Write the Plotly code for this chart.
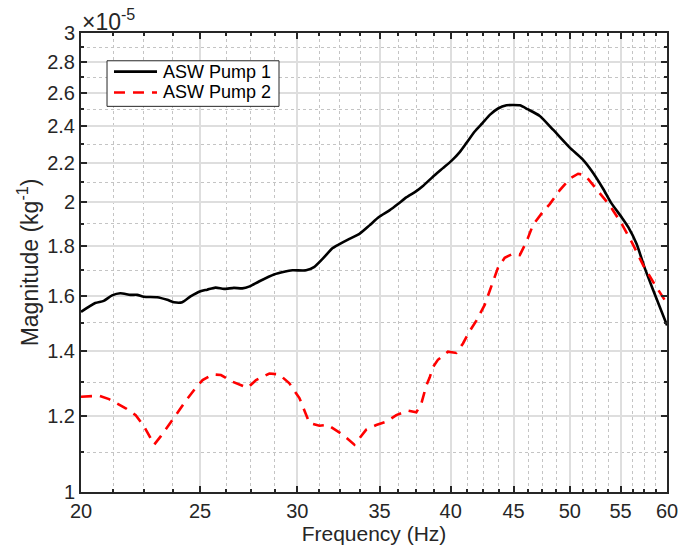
import plotly.graph_objects as go

# ASW Pump 1 (black), magnitude in units of 1e-5 kg^-1
f1 = [20.0, 20.54, 20.87, 21.2, 21.53, 21.94, 22.22, 22.5, 23.07, 23.51, 23.8, 24.18,
      24.56, 25.02, 25.34, 25.74, 26.15, 26.64, 27.06, 27.44, 27.92, 28.72, 29.27, 29.73,
      30.5, 30.98, 31.47, 32.06, 32.47, 33.08, 33.71, 34.35, 34.96, 35.66, 36.23, 36.8,
      37.45, 37.97, 38.69, 39.42, 40.05, 40.68, 41.19, 41.84, 42.45, 43.04, 43.71, 44.41,
      44.96, 45.53, 46.2, 47.27, 48.46, 50.0, 51.2, 52.09, 53.24, 54.0, 55.11, 55.8,
      56.68, 57.5, 58.48, 60.0]
m1 = [1.539, 1.572, 1.58, 1.601, 1.609, 1.603, 1.603, 1.596, 1.594, 1.584, 1.575, 1.575,
      1.597, 1.617, 1.623, 1.631, 1.626, 1.63, 1.628, 1.636, 1.655, 1.683, 1.694, 1.70,
      1.70, 1.714, 1.748, 1.793, 1.81, 1.833, 1.855, 1.893, 1.931, 1.962, 1.992, 2.024,
      2.052, 2.08, 2.127, 2.171, 2.209, 2.256, 2.305, 2.37, 2.418, 2.466, 2.504, 2.523,
      2.525, 2.523, 2.50, 2.46, 2.38, 2.28, 2.218, 2.157, 2.065, 2.0, 1.93, 1.885,
      1.81, 1.714, 1.62, 1.49]

# ASW Pump 2 (red dashed)
f2 = [20.0, 20.69, 21.08, 21.75, 22.16, 22.51, 22.94, 23.23, 23.89, 24.35, 24.8, 25.12,
      25.6, 26.0, 26.57, 27.33, 27.77, 28.47, 29.0, 29.56, 30.12, 30.69, 31.27, 31.76,
      32.67, 33.39, 34.14, 34.79, 35.44, 36.12, 36.91, 37.5, 37.85, 38.21, 38.45, 38.69,
      39.05, 39.79, 40.42, 40.93, 41.45, 41.97, 42.63, 43.17, 43.71, 44.26, 44.96, 45.53,
      46.1, 46.68, 47.42, 48.16, 49.08, 50.01, 50.79, 51.44, 52.74, 53.91, 55.11, 56.15,
      57.39, 58.6, 60.0]
m2 = [1.256, 1.259, 1.249, 1.222, 1.202, 1.17, 1.12, 1.143, 1.202, 1.245, 1.283, 1.307,
      1.325, 1.323, 1.302, 1.283, 1.307, 1.328, 1.325, 1.297, 1.252, 1.18, 1.172, 1.174,
      1.147, 1.12, 1.161, 1.174, 1.183, 1.202, 1.215, 1.21, 1.235, 1.29, 1.315, 1.348,
      1.372, 1.399, 1.395, 1.427, 1.47, 1.507, 1.565, 1.634, 1.711, 1.752, 1.769, 1.763,
      1.82, 1.896, 1.947, 1.992, 2.06, 2.117, 2.142, 2.135, 2.055, 1.985, 1.90, 1.82,
      1.72, 1.645, 1.57]

series_names = ["ASW Pump 1", "ASW Pump 2"]

x_ticks = [20, 25, 30, 35, 40, 45, 50, 55, 60]
x_minor = [v + k * 1.25 for v in x_ticks[:-1] for k in (1, 2, 3)]
y_ticks = [1, 1.2, 1.4, 1.6, 1.8, 2, 2.2, 2.4, 2.6, 2.8, 3]
y_tick_text = ["1", "1.2", "1.4", "1.6", "1.8", "2", "2.2", "2.4", "2.6", "2.8", "3"]
y_minor = [1.1, 1.3, 1.5, 1.7, 1.9, 2.1, 2.3, 2.5, 2.7, 2.9]

FONT = "Liberation Sans, Arial, sans-serif"
AX = "#262626"
RED_DASH = "11px,8px"

fig = go.Figure()
fig.add_trace(go.Scatter(x=f1, y=m1, mode="lines", name=series_names[0], showlegend=False,
                         line=dict(color="black", width=2.6, shape="spline", smoothing=0.6)))
fig.add_trace(go.Scatter(x=f2, y=m2, mode="lines", name=series_names[1], showlegend=False,
                         line=dict(color="#ff0000", width=2.6, dash=RED_DASH)))

axis_common = dict(
    showline=True, linecolor=AX, linewidth=2, mirror="ticks",
    ticks="inside", ticklen=6, tickwidth=1.5, tickcolor=AX,
    showgrid=True, gridcolor="#dedede", gridwidth=1.5,
    zeroline=False,
    tickfont=dict(family=FONT, size=20, color=AX),
)

fig.update_xaxes(
    type="log", range=[1.30103, 1.778151],
    tickmode="array", tickvals=x_ticks, ticktext=[str(v) for v in x_ticks],
    title=dict(text="Frequency (Hz)", font=dict(family=FONT, size=21, color=AX), standoff=3),
    minor=dict(tickmode="array", tickvals=x_minor, ticks="inside", ticklen=3,
               tickcolor=AX, showgrid=True, gridcolor="#c4c4c4", griddash="dot", gridwidth=1),
    **axis_common,
)
fig.update_yaxes(
    type="log", range=[0, 0.4771213],
    tickmode="array", tickvals=y_ticks, ticktext=y_tick_text,
    title=dict(text="Magnitude (kg<sup>-1</sup>)", font=dict(family=FONT, size=23, color=AX), standoff=2),
    minor=dict(tickmode="array", tickvals=y_minor, ticks="inside", ticklen=3,
               tickcolor=AX, showgrid=True, gridcolor="#c4c4c4", griddash="dot", gridwidth=1),
    **axis_common,
)

fig.add_annotation(text="×10<sup>-5</sup>", xref="paper", yref="paper", x=0.0, y=1.0,
                   xanchor="left", yanchor="bottom", showarrow=False, yshift=-4, xshift=-1,
                   font=dict(family=FONT, size=23, color=AX))

# Legend box (drawn in paper coordinates)
leg_x0, leg_x1, leg_y0, leg_y1 = 0.0444, 0.3379, 0.8402, 0.9395
row_y = [0.9158, 0.8704]
fig.add_shape(type="rect", xref="paper", yref="paper", x0=leg_x0, x1=leg_x1, y0=leg_y0, y1=leg_y1,
              line=dict(color=AX, width=1), fillcolor="white", layer="above")
styles = [dict(color="black", width=2.6), dict(color="#ff0000", width=2.6, dash=RED_DASH)]
for name, ry, st in zip(series_names, row_y, styles):
    fig.add_shape(type="line", xref="paper", yref="paper", x0=0.0563, x1=0.1297, y0=ry, y1=ry,
                  line=st, layer="above")
    fig.add_annotation(text=name, xref="paper", yref="paper", x=0.1365, y=ry,
                       xanchor="left", yanchor="middle", showarrow=False,
                       font=dict(family=FONT, size=18, color="black"))

fig.update_layout(
    width=694, height=552,
    margin=dict(l=81, r=27, t=33, b=56),
    plot_bgcolor="white", paper_bgcolor="white",
    showlegend=False,
)

fig.write_html("out.html")
